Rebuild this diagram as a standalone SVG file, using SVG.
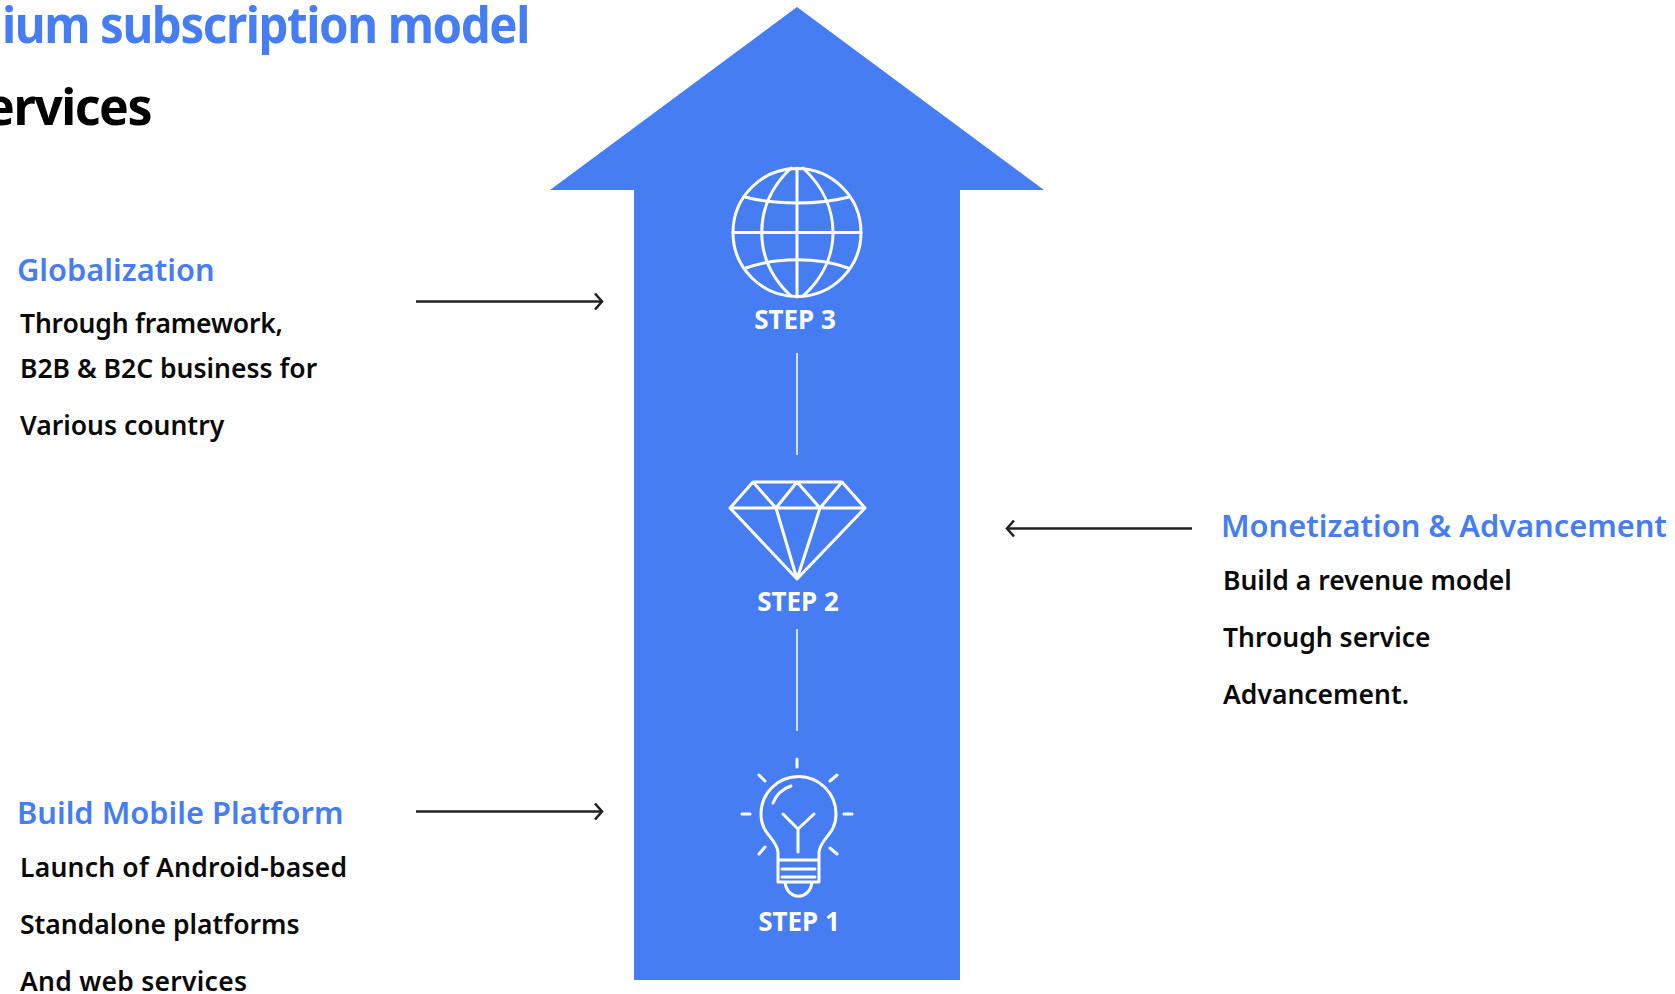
<svg xmlns="http://www.w3.org/2000/svg" width="1675" height="994" viewBox="0 0 1675 994">
<style>
text{font-family:"Noto Sans","Noto Sans CJK KR",sans-serif}
.t{font-weight:700;font-size:50px;letter-spacing:-1.5px}
.h{font-weight:600;font-size:30.800px;fill:#477df2}
.b{font-weight:600;font-size:26.500px;fill:#0a0a0a}
.s{font-weight:700;font-size:26px;fill:#fff;text-anchor:middle}
.w{fill:none;stroke:#fff;stroke-width:3;stroke-linecap:round;stroke-linejoin:round}
.a{fill:none;stroke:#222;stroke-width:2.6}
</style>
<defs><marker id="ah" markerUnits="userSpaceOnUse" markerWidth="14" markerHeight="20" refX="10" refY="10" orient="auto"><path d="M3 2L10 10L3 18" fill="none" stroke="#222" stroke-width="2.6"/></marker></defs>
<g id="titles"><text class="t" x="2" y="43" fill="#477df2" textLength="527" lengthAdjust="spacingAndGlyphs">ium subscription model</text><text class="t" x="151" y="125" fill="#000" text-anchor="end">ervices</text></g>
<g id="big-arrow"><path d="M797 7L1044 190H960V980H634V190H550Z" fill="#477df2"/></g>
<g id="connectors">
<path class="a" d="M416 301.500H602" marker-end="url(#ah)"/>
<path class="a" d="M416 811.500H602" marker-end="url(#ah)"/>
<path class="a" d="M1192 528.500H1007" marker-end="url(#ah)"/>
<path d="M797 353V455M797 629V731" stroke="#fff" stroke-width="1.500" fill="none"/>
</g>
<g id="step3" class="node">
<g class="w"><circle cx="797" cy="232.500" r="64"/><path d="M733 232.500H861M797 168V297"/><path d="M791 168C752 205 752 260 791 296M803 168C843 205 843 260 803 296"/><path d="M745 197C775 205 819 205 849 197M746 268C776 257 818 257 848 268"/></g>
<text class="s" x="795" y="329">STEP 3</text></g>
<g id="step2" class="node">
<g class="w"><path d="M753 482H842L865 508L797 579L730 508ZM730 508H865M753 482L776 508L797 482L820 508L842 482M776 508L797 579L820 508"/></g>
<text class="s" x="798" y="611">STEP 2</text></g>
<g id="step1" class="node">
<g class="w"><path d="M797 759V767M759 775L765 781M837 775L830 781M742 814H750M844 814H852M759 854L765 847M837 854L830 848"/>
<path d="M778 860V852C776 837 761 835 761 814A37.500 37.500 0 0 1 836 814C836 835 821 837 819 852V882H778ZM778 860H819M782 869H815M782 877H815M785 882C787 901 810 901 812 882"/><path d="M773 803C776 795 782 789 791 786M783 814L798 829L814 814M798 829V852"/></g>
<text class="s" x="799" y="931">STEP 1</text></g>
<g id="globalization" class="node"><text class="h" x="17" y="281">Globalization</text><text class="b" x="20" y="333" textLength="263">Through framework,</text><text class="b" x="20" y="378">B2B &amp; B2C business for</text><text class="b" x="20" y="435">Various country</text></g>
<g id="platform" class="node"><text class="h" x="17" y="824">Build Mobile Platform</text><text class="b" x="20" y="877" textLength="327">Launch of Android-based</text><text class="b" x="20" y="934">Standalone platforms</text><text class="b" x="20" y="991" textLength="227">And web services</text></g>
<g id="monetization" class="node"><text class="h" x="1221" y="537">Monetization &amp; Advancement</text><text class="b" x="1223" y="590">Build a revenue model</text><text class="b" x="1223" y="647">Through service</text><text class="b" x="1223" y="704">Advancement.</text></g>
</svg>
